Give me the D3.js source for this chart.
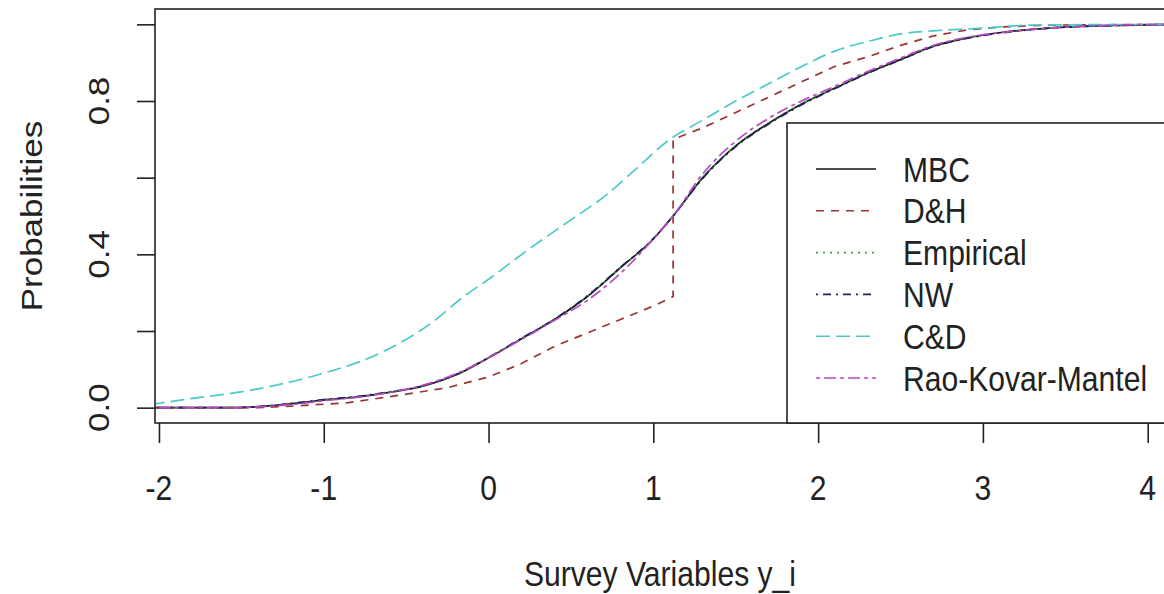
<!DOCTYPE html>
<html>
<head>
<meta charset="utf-8">
<script src="https://cdnjs.cloudflare.com/ajax/libs/d3/7.8.5/d3.min.js"></script>
<style>
  body { margin: 0; background: #fff; }
  svg { display: block; }
  text { font-family: "Liberation Sans", Arial, sans-serif; fill: #222; }
</style>
</head>
<body>
<svg id="chart" width="1164" height="594"></svg>
<script>
// ---- data ----
const xTicks = [-2, -1, 0, 1, 2, 3, 4];
const yTicks = [0, 0.2, 0.4, 0.6, 0.8, 1.0];
const yTickLabels = ["0.0", "0.4", "0.8"];

const seriesNames = ["MBC", "D&H", "Empirical", "NW", "C&D", "Rao-Kovar-Mantel"];

// MBC, Empirical, NW and Rao-Kovar-Mantel share one grid of y_i values
const gridX = [-2.05, -1.6, -1.35, -1.2, -1.0, -0.8, -0.6, -0.4, -0.2, 0.0, 0.2, 0.4, 0.6, 0.8,
               1.0, 1.12, 1.3, 1.5, 1.7, 1.9, 2.1, 2.3, 2.5, 2.7, 2.9, 3.1, 3.4, 3.8, 4.2];
const mbcP = [0, 0, 0.004, 0.01, 0.02, 0.028, 0.04, 0.056, 0.085, 0.13, 0.18, 0.23, 0.29, 0.365,
              0.44, 0.5, 0.6, 0.683, 0.742, 0.792, 0.833, 0.873, 0.908, 0.943, 0.964, 0.978, 0.99, 0.997, 1.0];
const empiricalP = [0, 0, 0.004, 0.01, 0.021, 0.028, 0.041, 0.056, 0.086, 0.13, 0.18, 0.231, 0.29, 0.364,
              0.44, 0.5, 0.6, 0.684, 0.743, 0.792, 0.834, 0.874, 0.909, 0.944, 0.965, 0.978, 0.99, 0.997, 1.0];
const nwP = [0, 0, 0.004, 0.011, 0.021, 0.029, 0.041, 0.057, 0.086, 0.131, 0.181, 0.231, 0.292, 0.366,
              0.441, 0.5, 0.598, 0.681, 0.74, 0.79, 0.832, 0.872, 0.907, 0.942, 0.963, 0.977, 0.99, 0.997, 1.0];
const rkmP = [0, 0, 0.003, 0.008, 0.018, 0.027, 0.04, 0.058, 0.088, 0.13, 0.178, 0.228, 0.28, 0.35,
              0.44, 0.5, 0.61, 0.695, 0.755, 0.8, 0.838, 0.877, 0.912, 0.945, 0.966, 0.978, 0.99, 0.998, 1.0];

// D&H has a jump near y_i = 1.12
const dhX = [-2.05, -1.4, -1.15, -0.85, -0.55, -0.25, 0.0, 0.2, 0.4, 0.6, 0.8, 1.0, 1.1, 1.12, 1.12,
             1.3, 1.5, 1.7, 1.9, 2.1, 2.3, 2.5, 2.7, 2.9, 3.1, 3.4, 4.2];
const dhP = [0, 0, 0.005, 0.013, 0.032, 0.052, 0.08, 0.115, 0.16, 0.195, 0.23, 0.265, 0.285, 0.29, 0.7,
             0.73, 0.77, 0.81, 0.85, 0.89, 0.915, 0.945, 0.97, 0.985, 0.993, 0.998, 1.0];

const cdX = [-2.05, -1.85, -1.45, -1.05, -0.65, -0.35, -0.15, 0.0, 0.25, 0.5, 0.7, 0.9, 1.1, 1.3,
             1.5, 1.7, 1.9, 2.1, 2.3, 2.5, 2.7, 3.0, 3.3, 4.2];
const cdP = [0.008, 0.021, 0.045, 0.084, 0.144, 0.22, 0.29, 0.335, 0.415, 0.49, 0.55, 0.625, 0.7, 0.75,
             0.8, 0.845, 0.89, 0.93, 0.955, 0.975, 0.983, 0.99, 0.998, 1.0];

// ---- layout ----
const svg = d3.select("#chart");
const mLeft = 155, mRight = 1165, mTop = 9, mBottom = 423;
const squeeze = 0.86;   // the original lettering is a bit narrow
const fontSize = 35;

const x = d3.scaleLinear().domain([-2.024, 4.105]).range([mLeft, mRight]);
const y = d3.scaleLinear().domain([-0.04, 1.04]).range([mBottom, mTop]);

const styles = {
  "MBC":              { color: "#111111", dash: null },
  "D&H":              { color: "#9b3434", dash: "8,7" },
  "Empirical":        { color: "#3aa83a", dash: "2,5" },
  "NW":               { color: "#23235f", dash: "2,5,8,5" },
  "C&D":              { color: "#4cc9c9", dash: "14,6" },
  "Rao-Kovar-Mantel": { color: "#b948c4", dash: "4,4,12,4" }
};

const series = [
  { name: "MBC", xs: gridX, ps: mbcP },
  { name: "D&H", xs: dhX, ps: dhP },
  { name: "Empirical", xs: gridX, ps: empiricalP },
  { name: "NW", xs: gridX, ps: nwP },
  { name: "C&D", xs: cdX, ps: cdP },
  { name: "Rao-Kovar-Mantel", xs: gridX, ps: rkmP }
];

svg.append("clipPath").attr("id", "plotclip")
  .append("rect").attr("x", mLeft).attr("y", mTop)
  .attr("width", mRight - mLeft).attr("height", mBottom - mTop);

const smooth = d3.line().x(d => x(d[0])).y(d => y(d[1])).curve(d3.curveMonotoneX);
const straight = d3.line().x(d => x(d[0])).y(d => y(d[1]));

svg.append("g").attr("clip-path", "url(#plotclip)")
  .selectAll("path")
  .data(series)
  .enter()
  .append("path")
  .attr("d", s => {
    const pts = s.xs.map((v, i) => [v, s.ps[i]]);
    return s.name == "D&H" ? straight(pts) : smooth(pts); // D&H has a vertical jump
  })
  .attr("fill", "none")
  .attr("stroke", s => styles[s.name].color)
  .attr("stroke-width", 1.7)
  .attr("stroke-dasharray", s => styles[s.name].dash);

// axes (ticks only, labels drawn below)
const xAxis = svg.append("g")
  .attr("transform", `translate(0,${mBottom})`)
  .call(d3.axisBottom(x).tickValues(xTicks).tickSize(20).tickFormat(""));
xAxis.select(".domain").remove();
xAxis.selectAll("line").attr("stroke", "#222").attr("stroke-width", 1.6);

const yAxis = svg.append("g")
  .attr("transform", `translate(${mLeft},0)`)
  .call(d3.axisLeft(y).tickValues(yTicks).tickSize(18).tickFormat(""));
yAxis.select(".domain").remove();
yAxis.selectAll("line").attr("stroke", "#222").attr("stroke-width", 1.6);

// plot frame
svg.append("rect")
  .attr("x", mLeft).attr("y", mTop)
  .attr("width", mRight - mLeft).attr("height", mBottom - mTop)
  .attr("fill", "none").attr("stroke", "#222").attr("stroke-width", 1.6);

// tick labels
svg.selectAll(".xlab")
  .data(xTicks)
  .enter()
  .append("text")
  .attr("class", "xlab")
  .attr("transform", d => `translate(${x(d)},500) scale(${squeeze},1)`)
  .attr("text-anchor", "middle")
  .attr("font-size", fontSize)
  .text(d => d);

svg.selectAll(".ylab")
  .data(yTickLabels)
  .enter()
  .append("text")
  .attr("class", "ylab")
  .attr("transform", d => `translate(109,${y(+d)}) scale(${squeeze},1) rotate(-90)`)
  .attr("text-anchor", "middle")
  .attr("font-size", fontSize)
  .text(d => d);

// axis titles
svg.append("text")
  .attr("transform", `translate(${(mLeft + mRight) / 2},586) scale(${squeeze},1)`)
  .attr("text-anchor", "middle")
  .attr("font-size", fontSize)
  .text("Survey Variables y_i");

svg.append("text")
  .attr("transform", `translate(42,${(mTop + mBottom) / 2}) scale(${squeeze},1) rotate(-90)`)
  .attr("text-anchor", "middle")
  .attr("font-size", fontSize)
  .text("Probabilities");

// legend
const legend = svg.append("g");
legend.append("rect")
  .attr("x", 787).attr("y", 123)
  .attr("width", 400).attr("height", mBottom - 123)
  .attr("fill", "#fff").attr("stroke", "#222").attr("stroke-width", 1.6);

const rows = legend.selectAll(".row")
  .data(seriesNames)
  .enter()
  .append("g")
  .attr("class", "row")
  .attr("transform", (d, i) => `translate(0,${169 + i * 41.8})`);

rows.append("line")
  .attr("x1", 816).attr("x2", 876)
  .attr("stroke", d => styles[d].color)
  .attr("stroke-width", 1.6)
  .attr("stroke-dasharray", d => styles[d].dash);

rows.append("text")
  .attr("transform", `translate(903,12.5) scale(${squeeze},1)`)
  .attr("font-size", fontSize)
  .text(d => d);
</script>
</body>
</html>
